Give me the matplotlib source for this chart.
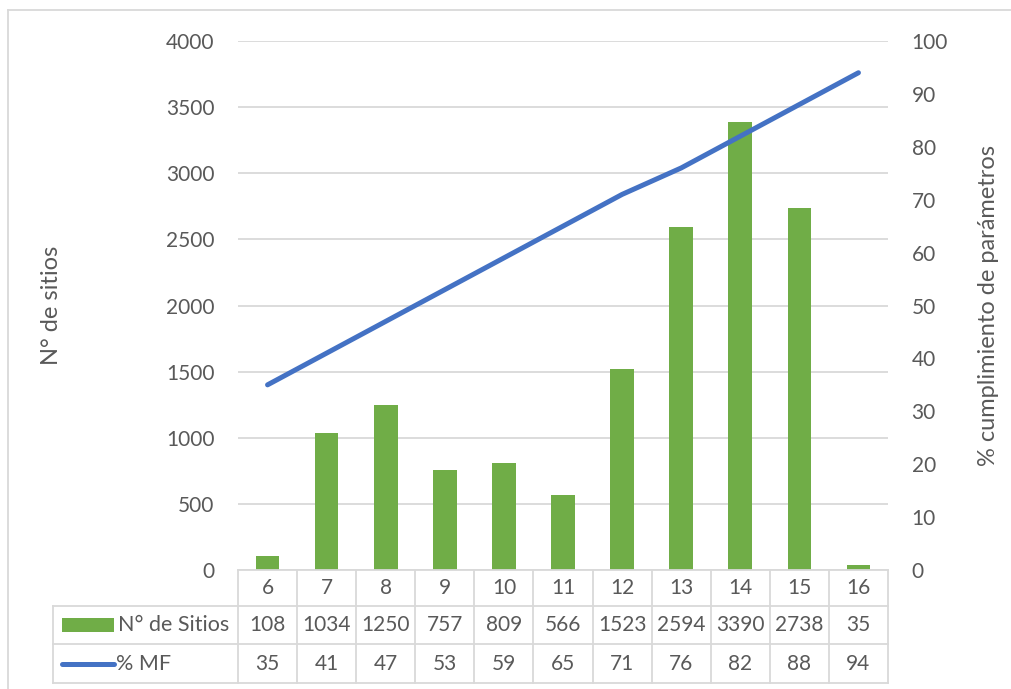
import numpy as np
import matplotlib.pyplot as plt
from matplotlib.lines import Line2D
from matplotlib.patches import Rectangle

# datos
categorias = ['6', '7', '8', '9', '10', '11', '12', '13', '14', '15', '16']
n_sitios = [108, 1034, 1250, 757, 809, 566, 1523, 2594, 3390, 2738, 35]
pct_mf = [35, 41, 47, 53, 59, 65, 71, 76, 82, 88, 94]

W, H = 1011, 689
VERDE = '#70AD47'
AZUL = '#4472C4'
GRIS = '#595959'
LINEA = '#D9D9D9'
plt.rcParams['font.family'] = ['Lato', 'DejaVu Sans']

def fx(x):
    return x / W

def fy(y):
    return 1 - y / H

fig = plt.figure(figsize=(W / 100, H / 100), dpi=100)

# area de grafico (pixeles del original)
x0, x1, y_top, y_bot = 238, 888, 41, 570
ancho = fx(x1) - fx(x0)
ax = fig.add_axes([fx(x0), fy(y_bot), ancho, fy(y_top) - fy(y_bot)])
n = len(categorias)
x = np.arange(n)
ax.bar(x, n_sitios, width=0.4, color=VERDE, zorder=3)
ax.set_xlim(-0.5, n - 0.5)
ax.set_ylim(0, 4000)
ax.set_yticks(np.arange(0, 4001, 500))
ax.grid(axis='y', color=LINEA, linewidth=1.3, zorder=0)
ax.set_xticks([])
for s in ax.spines.values():
    s.set_visible(False)
ax.tick_params(axis='y', length=0, pad=17, labelsize=15, labelcolor=GRIS)
ax.set_ylabel('N° de sitios', fontsize=17, color=GRIS)
ax.yaxis.set_label_coords((fx(62) - fx(x0)) / ancho, 0.5)

ax2 = ax.twinx()
ax2.plot(x, pct_mf, color=AZUL, linewidth=3.6, solid_capstyle='round', zorder=4)
ax2.set_ylim(0, 100)
ax2.set_yticks(np.arange(0, 101, 10))
for s in ax2.spines.values():
    s.set_visible(False)
ax2.tick_params(axis='y', length=0, pad=17, labelsize=15, labelcolor=GRIS)
ax2.set_ylabel('% cumplimiento de parámetros', fontsize=17, color=GRIS)
ax2.yaxis.set_label_coords((fx(978) - fx(x0)) / ancho, 0.5)

# tabla de datos
def linea(xa, ya, xb, yb, **kw):
    fig.add_artist(Line2D([fx(xa), fx(xb)], [fy(ya), fy(yb)], color=LINEA,
                          linewidth=1.3, **kw))

col_w = (x1 - x0) / n
r0, r1, r2, r3 = 570, 606, 644, 683
t_left = 53
linea(x0, r0, x1, r0)
linea(t_left, r1, x1, r1)
linea(t_left, r2, x1, r2)
linea(t_left, r3, x1, r3)
linea(t_left, r1, t_left, r3)
for i in range(n + 1):
    xc = x0 + i * col_w
    linea(xc, r0, xc, r3)

for i in range(n):
    xc = fx(x0 + (i + 0.5) * col_w)
    fig.text(xc, fy((r0 + r1) / 2), categorias[i], ha='center', va='center',
             fontsize=15, color=GRIS)
    fig.text(xc, fy((r1 + r2) / 2), str(n_sitios[i]), ha='center', va='center',
             fontsize=15, color=GRIS)
    fig.text(xc, fy((r2 + r3) / 2), str(pct_mf[i]), ha='center', va='center',
             fontsize=15, color=GRIS)

# leyendas dentro de la tabla
fig.add_artist(Rectangle((fx(62), fy(632)), fx(114) - fx(62), fy(618) - fy(632),
                         facecolor=VERDE, edgecolor='none'))
fig.text(fx(118), fy((r1 + r2) / 2), 'N° de Sitios', ha='left', va='center',
         fontsize=15.5, color=GRIS)
fig.add_artist(Line2D([fx(62), fx(114)], [fy(664), fy(664)], color=AZUL,
                      linewidth=3.6, solid_capstyle='round'))
fig.text(fx(116), fy((r2 + r3) / 2), '% MF', ha='left', va='center',
         fontsize=15.5, color=GRIS)

# borde del grafico
linea(8, 10, W, 10)
linea(8, 10, 8, H)

fig.savefig('out.png', dpi=100)
